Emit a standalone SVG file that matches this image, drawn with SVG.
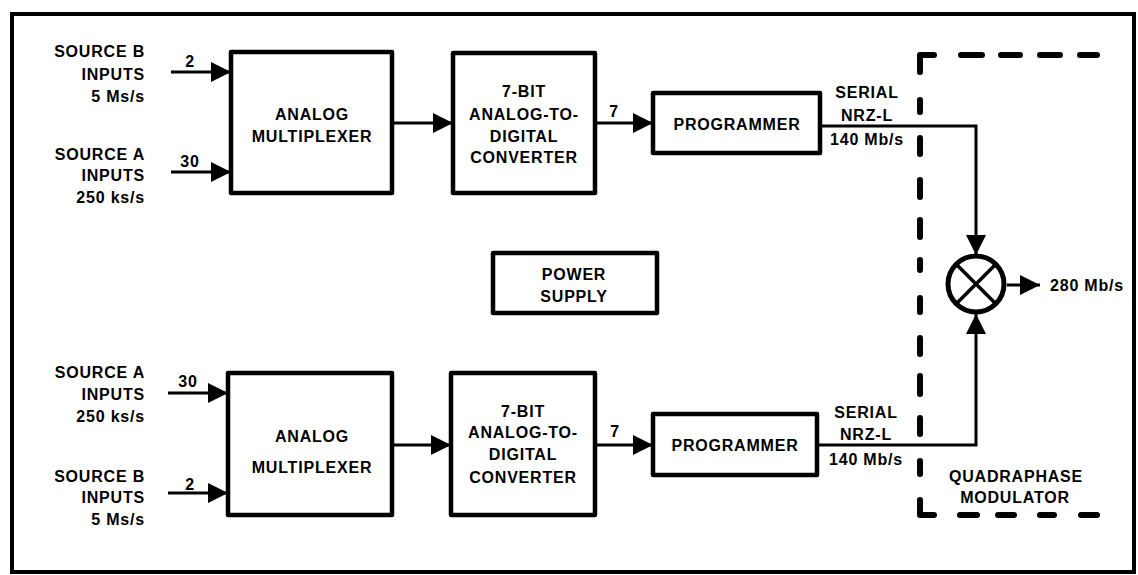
<svg xmlns="http://www.w3.org/2000/svg" width="1138" height="575" viewBox="0 0 1138 575">
<style>
text{font-family:"Liberation Sans",Arial,sans-serif;font-weight:bold;font-size:16px;letter-spacing:0.8px;fill:#000}
.r{text-anchor:end}
.c{text-anchor:middle}
.box{fill:#fff;stroke:#000;stroke-width:4.5;stroke-linejoin:round}
.ln{fill:none;stroke:#000;stroke-width:3}
.dash{fill:none;stroke:#000;stroke-width:6;stroke-linecap:round;stroke-linejoin:round}
</style>
<defs>
<marker id="ah" markerUnits="userSpaceOnUse" markerWidth="20" markerHeight="20" refX="20" refY="10" orient="auto" viewBox="0 0 20 20">
<path d="M0,0 L20,10 L0,20 z" fill="#000"/>
</marker>
</defs>
<rect x="12" y="14" width="1122" height="558" fill="#fff" stroke="#000" stroke-width="4"/>

<g id="connectors">
<path class="ln" d="M171,72 L231,72" marker-end="url(#ah)"/>
<path class="ln" d="M171,172 L231,172" marker-end="url(#ah)"/>
<path class="ln" d="M392,123 L453,123" marker-end="url(#ah)"/>
<path class="ln" d="M595,123 L653,123" marker-end="url(#ah)"/>
<path class="ln" d="M820,126 L976,126 L976,255" marker-end="url(#ah)"/>
<path class="ln" d="M168,393 L228,393" marker-end="url(#ah)"/>
<path class="ln" d="M168,493 L228,493" marker-end="url(#ah)"/>
<path class="ln" d="M392,445 L451,445" marker-end="url(#ah)"/>
<path class="ln" d="M595,445 L653,445" marker-end="url(#ah)"/>
<path class="ln" d="M817,445 L976,445 L976,314" marker-end="url(#ah)"/>
<path class="ln" d="M1007,285 L1040,285" marker-end="url(#ah)"/>
</g>

<g id="labels-left-top">
<text class="r" x="145" y="57">SOURCE B</text>
<text class="r" x="145" y="80">INPUTS</text>
<text class="r" x="145" y="102">5 Ms/s</text>
<text class="r" x="145" y="160">SOURCE A</text>
<text class="r" x="145" y="181">INPUTS</text>
<text class="r" x="145" y="203">250 ks/s</text>
<text class="c" x="190" y="67">2</text>
<text class="c" x="190" y="167">30</text>
</g>

<g id="mux-top">
<rect class="box" x="231" y="52" width="161" height="141"/>
<text class="c" x="312" y="120">ANALOG</text>
<text class="c" x="312" y="142">MULTIPLEXER</text>
</g>

<g id="adc-top">
<rect class="box" x="453" y="53" width="142" height="140"/>
<text class="c" x="524" y="97">7-BIT</text>
<text class="c" x="524" y="120">ANALOG-TO-</text>
<text class="c" x="524" y="142">DIGITAL</text>
<text class="c" x="524" y="163">CONVERTER</text>
<text class="c" x="614" y="117">7</text>
</g>

<g id="prog-top">
<rect class="box" x="653" y="93" width="167" height="60"/>
<text class="c" x="737" y="130">PROGRAMMER</text>
<text class="c" x="867" y="98">SERIAL</text>
<text class="c" x="867" y="121">NRZ-L</text>
<text class="c" x="867" y="145">140 Mb/s</text>
</g>

<g id="power-supply">
<rect class="box" x="493" y="253" width="164" height="60"/>
<text class="c" x="574" y="280">POWER</text>
<text class="c" x="574" y="302">SUPPLY</text>
</g>

<g id="labels-left-bottom">
<text class="r" x="145" y="378">SOURCE A</text>
<text class="r" x="145" y="400">INPUTS</text>
<text class="r" x="145" y="422">250 ks/s</text>
<text class="r" x="145" y="482">SOURCE B</text>
<text class="r" x="145" y="503">INPUTS</text>
<text class="r" x="145" y="525">5 Ms/s</text>
<text class="c" x="188" y="387">30</text>
<text class="c" x="190" y="490">2</text>
</g>

<g id="mux-bottom">
<rect class="box" x="228" y="373" width="164" height="142"/>
<text class="c" x="312" y="442">ANALOG</text>
<text class="c" x="312" y="473">MULTIPLEXER</text>
</g>

<g id="adc-bottom">
<rect class="box" x="451" y="373" width="144" height="142"/>
<text class="c" x="523" y="417">7-BIT</text>
<text class="c" x="523" y="438">ANALOG-TO-</text>
<text class="c" x="523" y="460">DIGITAL</text>
<text class="c" x="523" y="483">CONVERTER</text>
<text class="c" x="615" y="437">7</text>
</g>

<g id="prog-bottom">
<rect class="box" x="653" y="414" width="164" height="61"/>
<text class="c" x="735" y="451">PROGRAMMER</text>
<text class="c" x="866" y="418">SERIAL</text>
<text class="c" x="866" y="440">NRZ-L</text>
<text class="c" x="866" y="465">140 Mb/s</text>
</g>

<g id="modulator">
<path class="dash" d="M920,72 L920,55 L934,55 M961,55 L982,55 M1001,55 L1020,55 M1040,55 L1060,55 M1080,55 L1097,55 M920,100 L920,112 M920,138 L920,154 M920,180 L920,197 M920,220 L920,237 M920,260 L920,270 M920,298 L920,312 M920,338 L920,354 M920,376 L920,394 M920,418 L920,434 M920,461 L920,474 M920,500 L920,515 L934,515 M960,515 L977,515 M998,515 L1014,515 M1040,515 L1054,515 M1081,515 L1097,515"/>
<circle cx="976" cy="284" r="28" fill="#fff" stroke="#000" stroke-width="5"/>
<path d="M956,264 L996,304 M996,264 L956,304" stroke="#000" stroke-width="3.5"/>
<text x="1050" y="291">280 Mb/s</text>
<text class="c" x="1016" y="482">QUADRAPHASE</text>
<text class="c" x="1015" y="503">MODULATOR</text>
</g>
</svg>
